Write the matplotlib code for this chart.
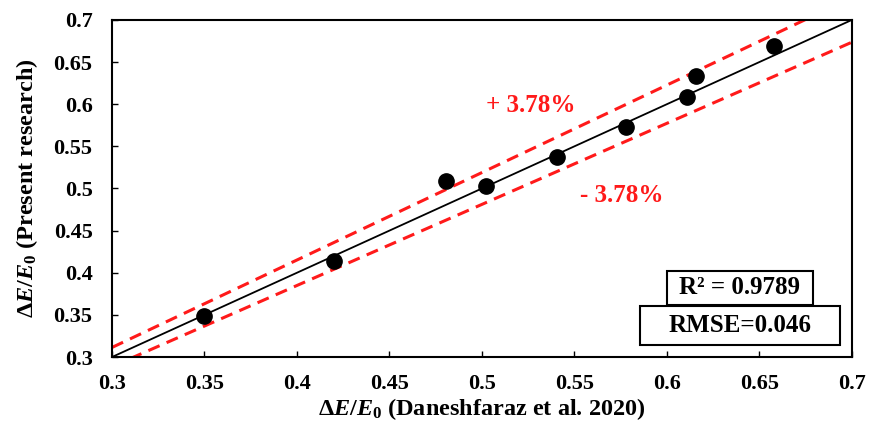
import matplotlib
matplotlib.use("Agg")
import matplotlib.pyplot as plt
from matplotlib.patches import Rectangle
import numpy as np

plt.rcParams['font.family'] = 'Liberation Serif'
plt.rcParams['font.weight'] = 'bold'
plt.rcParams['mathtext.fontset'] = 'custom'
plt.rcParams['mathtext.rm'] = 'Liberation Serif:bold'
plt.rcParams['mathtext.it'] = 'Liberation Serif:italic:bold'
plt.rcParams['mathtext.bf'] = 'Liberation Serif:bold'

x_ref = [0.35, 0.42, 0.4805, 0.502, 0.5405, 0.578, 0.611, 0.616, 0.658]
y_present = [0.349, 0.414, 0.509, 0.503, 0.537, 0.573, 0.6085, 0.6335, 0.669]
band = 0.0378
ticks = [0.3, 0.35, 0.4, 0.45, 0.5, 0.55, 0.6, 0.65, 0.7]
tick_labels = ['0.3', '0.35', '0.4', '0.45', '0.5', '0.55', '0.6', '0.65', '0.7']

fig = plt.figure(figsize=(8.71, 4.24), dpi=100)
ax = fig.add_axes([0.1286, 0.158, 0.8494, 0.795])

line = np.array([0.3, 0.7])
ax.plot(line, line, color='black', lw=1.3)
ax.plot(line, line * (1 + band), color='#ff1a1a', lw=2.2, ls=(0, (4, 2.5)))
ax.plot(line, line * (1 - band), color='#ff1a1a', lw=2.2, ls=(0, (4, 2.5)))
ax.plot(x_ref, y_present, 'o', color='black', ms=11, zorder=5)

ax.set_xlim(0.3, 0.7)
ax.set_ylim(0.3, 0.7)
ax.set_xticks(ticks)
ax.set_xticklabels(tick_labels)
ax.set_yticks(ticks)
ax.set_yticklabels(tick_labels)
ax.tick_params(direction='in', labelsize=16, length=4, width=1)
ax.tick_params(axis='x', pad=12)
ax.tick_params(axis='y', pad=14)
for lab in ax.get_xticklabels() + ax.get_yticklabels():
    lab.set_fontweight('bold')
for s in ax.spines.values():
    s.set_linewidth(1.5)

ax.set_xlabel(r'$\mathit{ΔE/E_0}$ (Daneshfaraz et al. 2020)', fontsize=17.5, fontweight='bold', labelpad=2)
ax.set_ylabel(r'$\mathit{ΔE/E_0}$ (Present research)', fontsize=17.5, fontweight='bold', labelpad=10)

ax.text(0.5265, 0.599, '+ 3.78%', color='#ff1a1a', fontsize=18, fontweight='bold', ha='center', va='center')
ax.text(0.5757, 0.492, '- 3.78%', color='#ff1a1a', fontsize=18, fontweight='bold', ha='center', va='center')

ax.add_patch(Rectangle((0.6, 0.3617), 0.0789, 0.0404, fc='white', ec='black', lw=1.5, zorder=6))
ax.add_patch(Rectangle((0.5854, 0.3142), 0.1081, 0.0463, fc='white', ec='black', lw=1.5, zorder=6))
ax.text(0.6395, 0.382, 'R² = 0.9789', fontsize=18, fontweight='bold', ha='center', va='center', zorder=7)
ax.text(0.6395, 0.3375, 'RMSE=0.046', fontsize=18, fontweight='bold', ha='center', va='center', zorder=7)

fig.savefig('out.png', dpi=100)
